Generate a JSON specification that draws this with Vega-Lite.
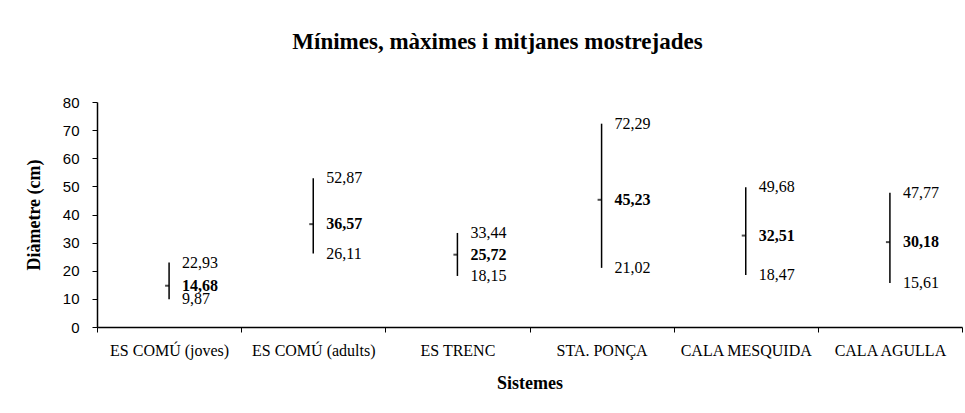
{
  "$schema": "https://vega.github.io/schema/vega-lite/v6.json",
  "width": 865,
  "height": 225,
  "autosize": {"type": "none"},
  "padding": {"left": 97, "top": 102, "right": 3, "bottom": 86},
  "background": "white",
  "config": {
    "view": {"stroke": null},
    "locale": {"number": {"decimal": ",", "thousands": ".", "grouping": [3], "currency": ["", " €"]}},
    "axisY": {
      "titleFont": "Liberation Serif",
      "titleFontSize": 18,
      "titleFontWeight": "bold",
      "titleColor": "black",
      "titlePadding": 19,
      "labelFont": "Liberation Sans",
      "labelFontSize": 15,
      "labelColor": "black",
      "labelPadding": 13,
      "labelOverlap": false,
      "tickColor": "black",
      "tickSize": 5,
      "domainColor": "black",
      "domainWidth": 1.5,
      "grid": false
    }
  },
  "title": {
    "text": "Mínimes, màximes i mitjanes mostrejades",
    "font": "Liberation Serif",
    "fontSize": 23,
    "fontWeight": "bold",
    "color": "black",
    "anchor": "middle",
    "dx": -32,
    "offset": 41
  },
  "data": {
    "values": [
      {"sistema": "ES COMÚ (joves)", "min": 9.87, "mitjana": 14.68, "max": 22.93},
      {"sistema": "ES COMÚ (adults)", "min": 26.11, "mitjana": 36.57, "max": 52.87},
      {"sistema": "ES TRENC", "min": 18.15, "mitjana": 25.72, "max": 33.44},
      {"sistema": "STA. PONÇA", "min": 21.02, "mitjana": 45.23, "max": 72.29},
      {"sistema": "CALA MESQUIDA", "min": 18.47, "mitjana": 32.51, "max": 49.68},
      {"sistema": "CALA AGULLA", "min": 15.61, "mitjana": 30.18, "max": 47.77}
    ]
  },
  "encoding": {
    "x": {
      "field": "sistema",
      "type": "nominal",
      "sort": null,
      "scale": {"paddingInner": 0, "paddingOuter": 0},
      "axis": {
        "title": "Sistemes",
        "titleFont": "Liberation Serif",
        "titleFontSize": 18,
        "titleFontWeight": "bold",
        "titleColor": "black",
        "titlePadding": 16,
        "labelFont": "Liberation Serif",
        "labelFontSize": 16,
        "labelColor": "black",
        "labelAngle": 0,
        "labelPadding": 10,
        "tickBand": "extent",
        "tickColor": "black",
        "tickSize": 5,
        "domainColor": "black",
        "domainWidth": 1.5,
        "grid": false
      }
    }
  },
  "layer": [
    {
      "mark": {"type": "rule", "color": "black", "strokeWidth": 1.5},
      "encoding": {
        "y": {
          "field": "min",
          "type": "quantitative",
          "scale": {"domain": [0, 80], "nice": false},
          "axis": {"title": "Diàmetre (cm)", "values": [0, 10, 20, 30, 40, 50, 60, 70, 80], "tickCount": 20}
        },
        "y2": {"field": "max"}
      }
    },
    {
      "mark": {"type": "tick", "color": "black", "orient": "horizontal", "size": 4, "thickness": 2, "xOffset": -2},
      "encoding": {
        "y": {"field": "mitjana", "type": "quantitative"}
      }
    },
    {
      "mark": {"type": "text", "align": "left", "baseline": "middle", "dx": 13, "font": "Liberation Serif", "fontSize": 16, "color": "black"},
      "encoding": {
        "y": {"field": "max", "type": "quantitative"},
        "text": {"field": "max", "type": "quantitative", "format": ".2f"}
      }
    },
    {
      "mark": {"type": "text", "align": "left", "baseline": "middle", "dx": 13, "font": "Liberation Serif", "fontSize": 16, "fontWeight": "bold", "color": "black"},
      "encoding": {
        "y": {"field": "mitjana", "type": "quantitative"},
        "text": {"field": "mitjana", "type": "quantitative", "format": ".2f"}
      }
    },
    {
      "mark": {"type": "text", "align": "left", "baseline": "middle", "dx": 13, "font": "Liberation Serif", "fontSize": 16, "color": "black"},
      "encoding": {
        "y": {"field": "min", "type": "quantitative"},
        "text": {"field": "min", "type": "quantitative", "format": ".2f"}
      }
    }
  ]
}
